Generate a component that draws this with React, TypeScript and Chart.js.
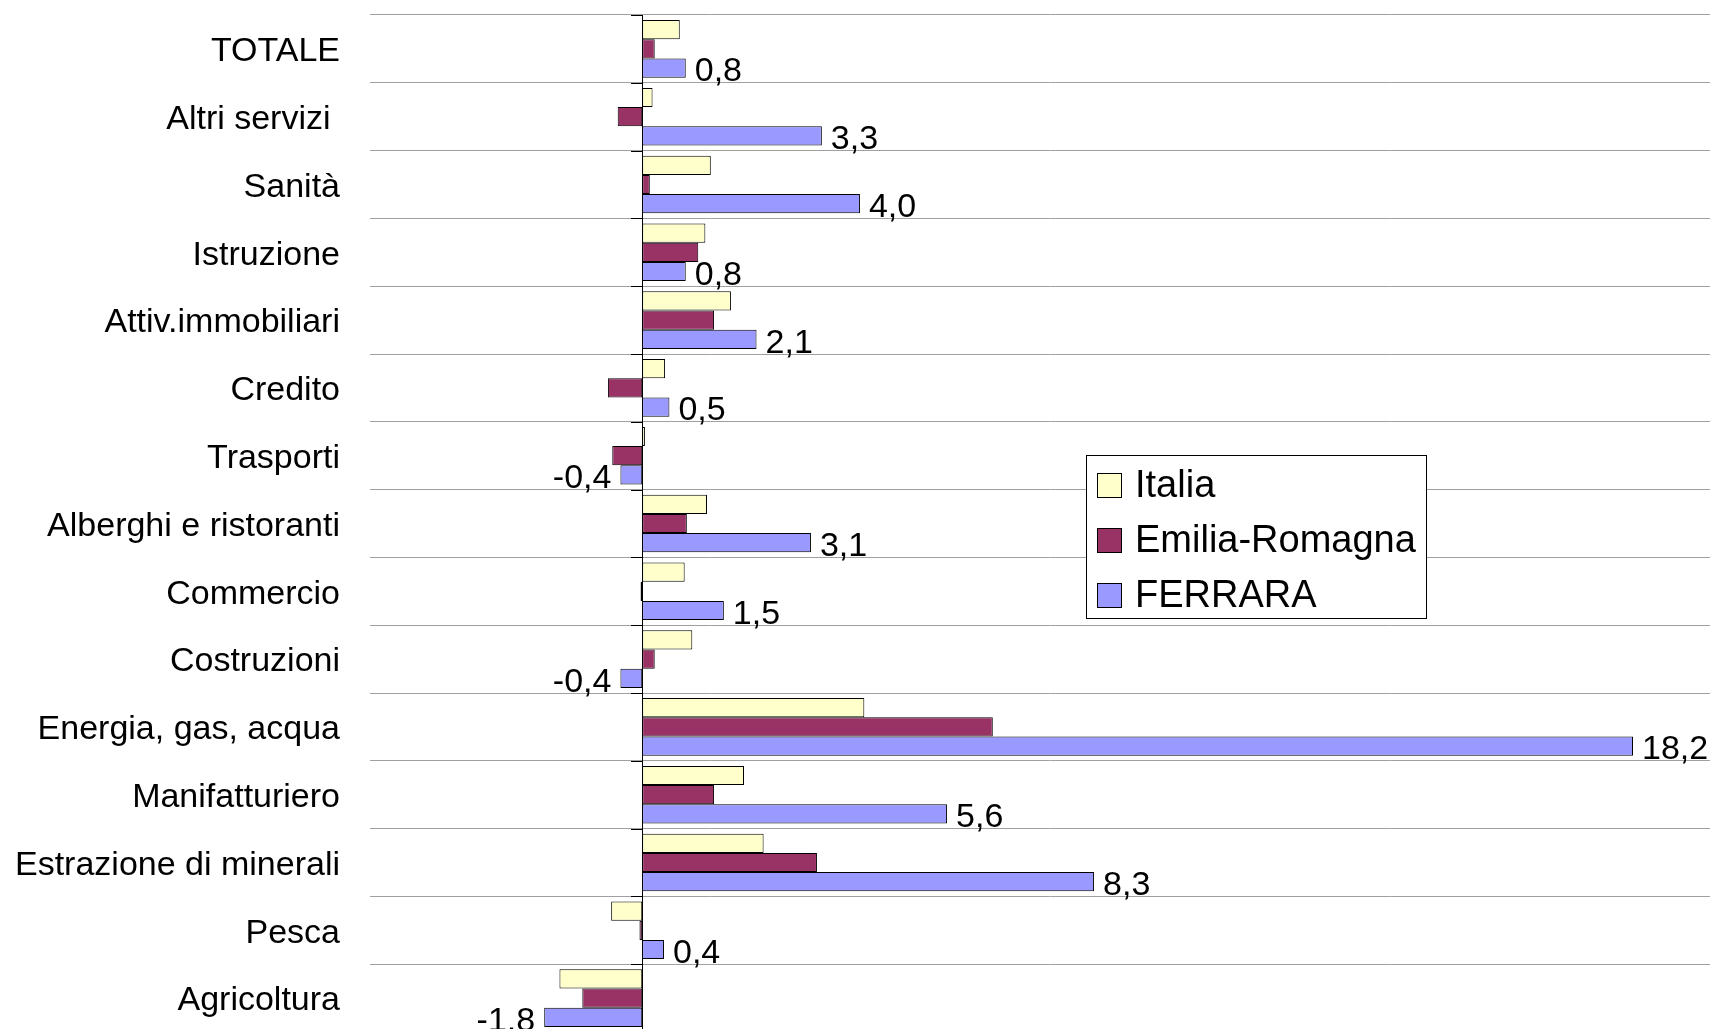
import React, { useEffect, useRef } from "react";
import { Chart, registerables } from "chart.js";

Chart.register(...registerables);

const categories = [
  "TOTALE",
  "Altri servizi ",
  "Sanità",
  "Istruzione",
  "Attiv.immobiliari",
  "Credito",
  "Trasporti",
  "Alberghi e ristoranti",
  "Commercio",
  "Costruzioni",
  "Energia, gas, acqua",
  "Manifatturiero",
  "Estrazione di minerali",
  "Pesca",
  "Agricoltura",
];

const seriesNames = ["Italia", "Emilia-Romagna", "FERRARA"];

const italia = [0.69, 0.19, 1.26, 1.16, 1.63, 0.42, 0.05, 1.19, 0.78, 0.92, 4.08, 1.87, 2.23, -0.57, -1.52];
const emilia = [0.23, -0.45, 0.14, 1.03, 1.32, -0.63, -0.55, 0.82, -0.03, 0.23, 6.44, 1.32, 3.21, -0.05, -1.1];
const ferrara = [0.8, 3.3, 4.0, 0.8, 2.1, 0.5, -0.4, 3.1, 1.5, -0.4, 18.2, 5.6, 8.3, 0.4, -1.8];

const colors = ["#FFFFCC", "#993366", "#9999FF"];

const FONT = "'Liberation Sans', Arial, sans-serif";

const W = 1740;
const H = 1040;

const fmt = (v: number) => v.toFixed(1).replace(".", ",");

const axisPlugin = {
  id: "zeroAxis",
  afterDatasetsDraw(chart: any) {
    const { ctx, scales, chartArea } = chart;
    const x0 = scales.x.getPixelForValue(0);
    ctx.save();
    ctx.strokeStyle = "#000";
    ctx.lineWidth = 1;
    ctx.beginPath();
    ctx.moveTo(Math.round(x0) + 0.5, chartArea.top);
    ctx.lineTo(Math.round(x0) + 0.5, chartArea.bottom);
    for (let i = 0; i <= categories.length; i++) {
      const y = Math.round(scales.y.getPixelForValue(i - 0.5)) + 0.5;
      ctx.moveTo(Math.round(x0) - 11, y);
      ctx.lineTo(Math.round(x0), y);
    }
    ctx.stroke();

    // data labels for FERRARA
    const meta = chart.getDatasetMeta(2);
    ctx.fillStyle = "#000";
    ctx.font = `34px ${FONT}`;
    ctx.textBaseline = "middle";
    meta.data.forEach((bar: any, i: number) => {
      const v = ferrara[i];
      if (v >= 0) {
        ctx.textAlign = "left";
        ctx.fillText(fmt(v), bar.x + 9, bar.y + 4);
      } else {
        ctx.textAlign = "right";
        ctx.fillText(fmt(v), bar.x - 9, bar.y + 4);
      }
    });
    ctx.restore();
  },
};

const legendPlugin = {
  id: "boxLegend",
  afterDraw(chart: any) {
    const { ctx } = chart;
    ctx.save();
    const bx = 1086, by = 455, bw = 340, bh = 163;
    ctx.fillStyle = "#fff";
    ctx.fillRect(bx, by, bw, bh);
    ctx.strokeStyle = "#000";
    ctx.lineWidth = 1;
    ctx.strokeRect(bx + 0.5, by + 0.5, bw, bh);
    ctx.font = `38px ${FONT}`;
    ctx.textAlign = "left";
    ctx.textBaseline = "alphabetic";
    seriesNames.forEach((name, i) => {
      const cy = 485 + i * 55;
      ctx.fillStyle = colors[i];
      ctx.fillRect(1097, cy - 12, 24, 24);
      ctx.strokeStyle = "#000";
      ctx.strokeRect(1097.5, cy - 11.5, 24, 24);
      ctx.fillStyle = "#000";
      ctx.fillText(name, 1135, cy + 12);
    });
    ctx.restore();
  },
};

export default function App() {
  const ref = useRef<HTMLCanvasElement | null>(null);

  useEffect(() => {
    if (!ref.current) return;
    const data = [italia, emilia, ferrara];
    const chart = new Chart(ref.current, {
      type: "bar",
      data: {
        labels: categories,
        datasets: seriesNames.map((name, i) => ({
          label: name,
          data: data[i],
          backgroundColor: colors[i],
          borderColor: "#000",
          borderWidth: 1,
          borderSkipped: false,
          categoryPercentage: 0.85,
          barPercentage: 1,
        })),
      },
      options: {
        indexAxis: "y",
        responsive: false,
        animation: false,
        devicePixelRatio: 1,
        layout: { padding: { top: 15, bottom: 8, left: 0, right: 9 } },
        plugins: { legend: { display: false }, tooltip: { enabled: false } },
        scales: {
          x: {
            display: false,
            min: -5,
            max: 20,
          },
          y: {
            position: "left",
            border: { display: false },
            grid: {
              offset: true,
              drawTicks: false,
              color: "#a0a0a0",
              lineWidth: 1,
            },
            ticks: {
              color: "#000",
              padding: 30,
              labelOffset: 3,
              font: { family: FONT, size: 34 },
              autoSkip: false,
            },
            afterFit: (scale: any) => {
              scale.width = 370;
              scale.paddingTop = 0;
              scale.paddingBottom = 0;
            },
          },
        },
      },
      plugins: [axisPlugin, legendPlugin],
    });
    return () => chart.destroy();
  }, []);

  return (
    <div
      style={{
        position: "fixed",
        left: 0,
        top: 0,
        width: 1710,
        height: 1029,
        overflow: "hidden",
        background: "#fff",
      }}
    >
      <canvas ref={ref} width={W} height={H} style={{ width: W, height: H, display: "block" }} />
    </div>
  );
}
